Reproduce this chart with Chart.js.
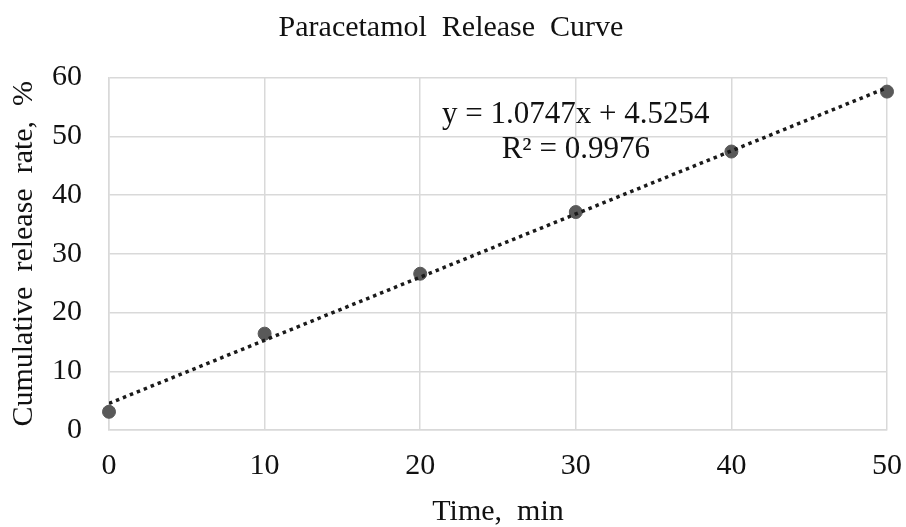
<!DOCTYPE html>
<html>
<head>
<meta charset="utf-8">
<script src="https://cdn.jsdelivr.net/npm/chart.js@4.4.1/dist/chart.umd.min.js"></script>
<style>
  html, body { margin: 0; padding: 0; background: #fff; }
  #wrap { width: 906px; height: 527px; }
</style>
</head>
<body>
<div id="wrap"><canvas id="releaseChart"></canvas></div>
<script>
// values
const timeMin = [0, 10, 20, 30, 40, 50];
const releasePct = [3.1, 16.4, 26.6, 37.1, 47.4, 57.6];
const xTicks = [0, 10, 20, 30, 40, 50];
const yTicks = [0, 10, 20, 30, 40, 50, 60];

// linear trendline as printed on the chart
const trendSlope = 1.0747;
const trendIntercept = 4.5254;
const trendR2 = 0.9976;
const trendX = [0, 50];

const serif = '"Liberation Serif", "Times New Roman", serif';
const gridColor = '#d9d9d9';

// draws the trendline equation in the plot area
const equationLabel = {
  id: 'equationLabel',
  afterDatasetsDraw(chart) {
    const { ctx, scales } = chart;
    const x = scales.x.getPixelForValue(30);
    ctx.save();
    ctx.font = '31px ' + serif;
    ctx.fillStyle = '#111';
    ctx.textAlign = 'center';
    ctx.textBaseline = 'middle';
    ctx.fillText('y = ' + trendSlope + 'x + ' + trendIntercept, x, scales.y.getPixelForValue(53.7));
    ctx.fillText('R² = ' + trendR2, x, scales.y.getPixelForValue(47.7));
    ctx.restore();
  }
};

new Chart(document.getElementById('releaseChart'), {
  type: 'scatter',
  data: {
    datasets: [
      {
        label: 'Release',
        data: timeMin.map((t, i) => ({ x: t, y: releasePct[i] })),
        backgroundColor: '#595959',
        borderColor: '#595959',
        pointRadius: 6.5,
        clip: false,
        order: 1
      },
      {
        label: 'Linear trend',
        type: 'line',
        data: trendX.map(t => ({ x: t, y: trendSlope * t + trendIntercept })),
        borderColor: '#1a1a1a',
        borderWidth: 3.5,
        borderDash: [3.5, 4],
        borderCapStyle: 'butt',
        pointRadius: 0,
        fill: false,
        order: 0
      }
    ]
  },
  options: {
    responsive: true,
    maintainAspectRatio: false,
    animation: false,
    layout: { padding: { left: 0, right: 19, top: 0, bottom: 0 } },
    plugins: {
      legend: { display: false },
      tooltip: { enabled: false },
      title: {
        display: true,
        text: '  Paracetamol  Release  Curve',
        color: '#111',
        font: { family: serif, size: 30, weight: 'normal', lineHeight: 1.2 },
        padding: { top: 10, bottom: 31.5 }
      }
    },
    scales: {
      x: {
        type: 'linear',
        min: 0,
        max: 50,
        afterBuildTicks: s => { s.ticks = xTicks.map(v => ({ value: v })); },
        afterFit: s => { s.height = 97; s.paddingLeft = 0; s.paddingRight = 0; },
        grid: { color: gridColor, lineWidth: 1.5, drawTicks: false },
        border: { color: gridColor, width: 1.5 },
        ticks: { color: '#111', padding: 18, font: { family: serif, size: 30 } },
        title: {
          display: true,
          text: 'Time,  min',
          color: '#111',
          font: { family: serif, size: 30, lineHeight: 1 },
          padding: { top: 0, bottom: 0 }
        }
      },
      y: {
        min: 0,
        max: 60,
        afterBuildTicks: s => { s.ticks = yTicks.map(v => ({ value: v })); },
        afterFit: s => { s.width = 109; },
        grid: { color: gridColor, lineWidth: 1.5, drawTicks: false },
        border: { color: gridColor, width: 1.5 },
        ticks: { color: '#111', padding: 27, font: { family: serif, size: 30 } },
        title: {
          display: true,
          text: 'Cumulative  release  rate,  %',
          color: '#111',
          font: { family: serif, size: 30, lineHeight: 1.2 },
          padding: { top: 6, bottom: 0 }
        }
      }
    }
  },
  plugins: [equationLabel]
});
</script>
</body>
</html>
